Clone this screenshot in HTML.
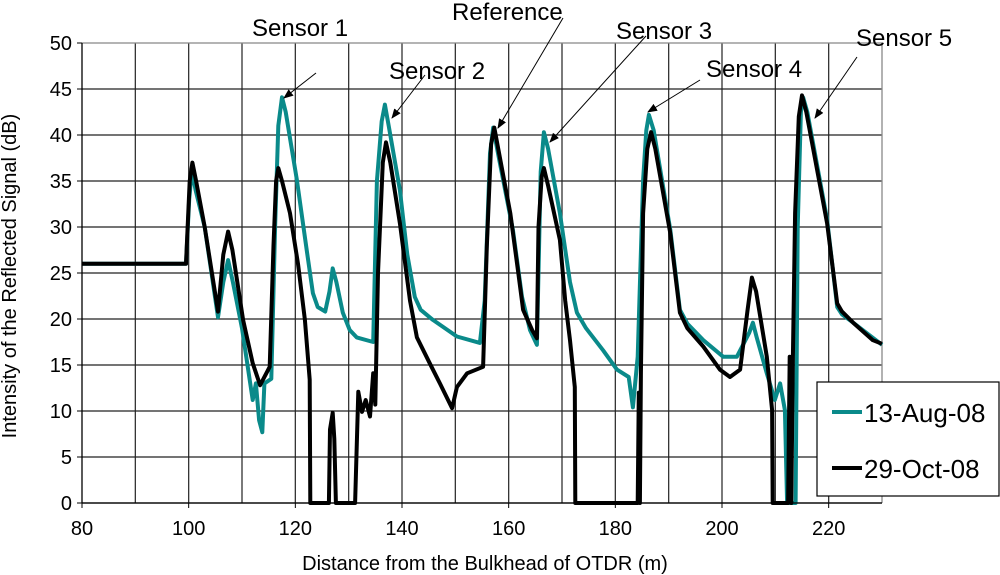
<!DOCTYPE html>
<html><head><meta charset="utf-8"><style>
body{margin:0;background:#fff;}
svg{display:block;font-family:"Liberation Sans",Arial,sans-serif;}
</style></head><body>
<svg id="chart" width="1000" height="575" viewBox="0 0 1000 575">
<g id="grid"></g>
<g id="series"></g>
<g id="axes"></g>
<text x="16" y="276" font-size="20" text-anchor="middle" transform="rotate(-90 16 276)">Intensity of the Reflected Signal (dB)</text>
<text x="485" y="570" font-size="20" text-anchor="middle">Distance from the Bulkhead of OTDR (m)</text>
<g id="annot" font-size="24"></g>
<g>
<rect x="817" y="382" width="182" height="114" fill="#fff" stroke="#000" stroke-width="1.2"/>
<line x1="832" y1="412" x2="862" y2="412" stroke="#0a8a8a" stroke-width="4"/>
<text x="864" y="422" font-size="26">13-Aug-08</text>
<line x1="832" y1="468" x2="862" y2="468" stroke="#000" stroke-width="4"/>
<text x="864" y="478" font-size="26">29-Oct-08</text>
</g>
</svg>
<script>
const xTicks=[80,100,120,140,160,180,200,220];
const yTicks=[0,5,10,15,20,25,30,35,40,45,50];
const augD=[80,99.5,100.1,100.6,101.3,103,105.5,106.5,107.4,108.3,110,112,112.6,113.2,113.8,114.2,115.5,116.2,116.8,117.5,118.2,120.3,122.2,123.3,124.2,125.6,126.4,127,127.7,128.9,130.2,131.5,134.6,135.3,136.2,136.8,137.5,139.6,141,142.4,143.5,145.8,150.3,154.6,155.5,156.5,157.1,158,160.8,162.5,164,165.3,166,166.6,167.4,169.6,171.5,172.8,174.5,177.7,180.3,182.5,183.3,184.2,185.2,185.8,186.3,187.2,190.3,192.1,193.5,196.5,200.2,202.8,205.1,205.8,206.5,208.4,209.9,210.9,211.8,212.2,213.8,214.2,214.8,215.2,216,219.7,221.6,222.5,224.6,230];
const augV=[26,26,33,36.2,34,30,20.2,24,26.4,24,19,11.2,13,9,7.7,13,13.5,30,41,44.1,42.5,35.1,27.2,22.8,21.3,20.8,23,25.5,24,20.7,18.8,18,17.5,35,41.5,43.3,41,34,27,22.4,21,19.9,18.1,17.4,22,38,40.8,38,29.7,22.4,18.8,17.2,36,40.3,38.5,31.5,24,20.7,19,16.6,14.5,13.7,10.4,15.9,35.1,40.5,42.2,40.5,29.7,21,19.5,17.7,15.9,15.9,18.5,19.6,18,14.1,11.2,13,10.1,0,0,30,42.5,44.1,42.5,30.8,21.3,20.5,19.6,17.2];
const octD=[80,99.5,100.2,100.7,101.4,103,105.5,106.5,107.4,108.2,110.2,112,113.4,115.2,115.9,116.4,116.8,117.5,119,120.5,121.8,122.7,122.8,126.3,126.5,127,127.3,127.6,131.2,131.8,132.5,133.2,134,134.6,135,135.5,136.4,137,137.8,139.6,141.5,142.8,145.2,147.1,149.4,150.3,152.2,155.2,155.9,156.7,157.3,158.2,160.3,161.8,162.7,164.4,165.3,165.6,166.2,166.6,167.4,169.6,170.6,171.5,172.4,172.5,184.2,184.4,184.6,184.8,185.2,186,186.7,187.5,190.3,192.1,193.5,196.5,199.6,201.5,203.4,204.8,205.6,206.4,208.4,209.4,209.5,212.4,212.7,213,213.3,213.7,214.4,215,215.8,219.7,221.6,222.5,224.6,228.3,230];
const octV=[26,26,35,37,35,30,20.8,27,29.5,27.5,19.9,15.2,12.8,14.8,28,35,36.4,35,31.5,26,19.9,13.4,0,0,8,9.8,7,0,0,12.1,9.9,11.2,9.4,14.1,10.7,25,37,39.2,37,30.4,22,18,15.2,13,10.3,12.6,14.1,14.8,27.8,39,40.8,38,31.5,25,21,18.8,17.9,30,35.5,36.4,34.5,28.6,22,17.7,12.6,0,0,12,0,14,31.5,38.5,40.3,38.5,29.3,20.7,19,17,14.5,13.7,14.5,21,24.5,23,15.9,10.1,0,0,15.9,0,15.9,31.5,42,44.3,42.5,30.4,21.7,20.8,19.6,17.7,17.3];
const NS='http://www.w3.org/2000/svg';
const X0=82,X1=882,Y0=503,Y1=43;
function sx(d){return X0+(d-80)*(X1-X0)/150;}
function sy(v){return Y0-v*(Y0-Y1)/50;}
function mk(tag,attrs,parent){const e=document.createElementNS(NS,tag);for(const k in attrs)e.setAttribute(k,attrs[k]);parent.appendChild(e);return e;}
const grid=document.getElementById('grid'),axes=document.getElementById('axes');
for(let d=90;d<=220;d+=10){const l=mk('line',{x1:sx(d),x2:sx(d),y1:Y1,y2:Y0,stroke:'#333','stroke-width':1.3},grid);

}
yTicks.forEach(v=>{const l=mk('line',{x1:X0,x2:X1,y1:sy(v),y2:sy(v),stroke:v==50?'#888':'#222','stroke-width':1.3},grid);


const t=mk('text',{x:X0-10,y:sy(v)+7,'font-size':20,'text-anchor':'end'},axes);t.textContent=v;


const tk=mk('line',{x1:X0-5,x2:X0,y1:sy(v),y2:sy(v),stroke:'#000'},axes);

});
const rb=mk('line',{x1:X1,x2:X1,y1:Y1,y2:Y0,stroke:'#888','stroke-width':1.3},grid);


xTicks.forEach(d=>{const t=mk('text',{x:sx(d),y:Y0+32,'font-size':20,'text-anchor':'middle'},axes);t.textContent=d;


const tk=mk('line',{x1:sx(d),x2:sx(d),y1:Y0,y2:Y0+5,stroke:'#000'},axes);

});
const ya=mk('line',{x1:X0,x2:X0,y1:Y1,y2:Y0,stroke:'#000','stroke-width':1.3},axes);


const xa=mk('line',{x1:X0,x2:X1,y1:Y0,y2:Y0,stroke:'#000','stroke-width':1.3},axes);


const ser=document.getElementById('series');
function pts(D,V){return D.map((d,i)=>sx(d).toFixed(1)+','+sy(V[i]).toFixed(1)).join(' ');}
const pa=mk('polyline',{points:pts(augD,augV),fill:'none',stroke:'#0a8a8a','stroke-width':4,'stroke-linejoin':'round'},ser);


const po=mk('polyline',{points:pts(octD,octV),fill:'none',stroke:'#000','stroke-width':4,'stroke-linejoin':'round'},ser);


const an=document.getElementById('annot');
mk('defs',{},an).innerHTML='<marker id="ah" markerWidth="10" markerHeight="8" refX="9" refY="4" orient="auto" markerUnits="userSpaceOnUse"><path d="M0,0 L10,4 L0,8 z" fill="#000"/></marker>';
const labels=[["Sensor 1",252,36,316,73,284,98],["Sensor 2",389,79,425,75,392,118],["Reference",452,20,563,18,498,128],["Sensor 3",616,39,646,36,550,142],["Sensor 4",706,77,700,80,648,112],["Sensor 5",856,46,857,57,815,118]];
labels.forEach(a=>{const t=mk('text',{x:a[1],y:a[2]},an);t.textContent=a[0];


const l=mk('line',{x1:a[3],y1:a[4],x2:a[5],y2:a[6],stroke:'#000','stroke-width':1,'marker-end':'url(#ah)'},an);

});
</script>
</body></html>
